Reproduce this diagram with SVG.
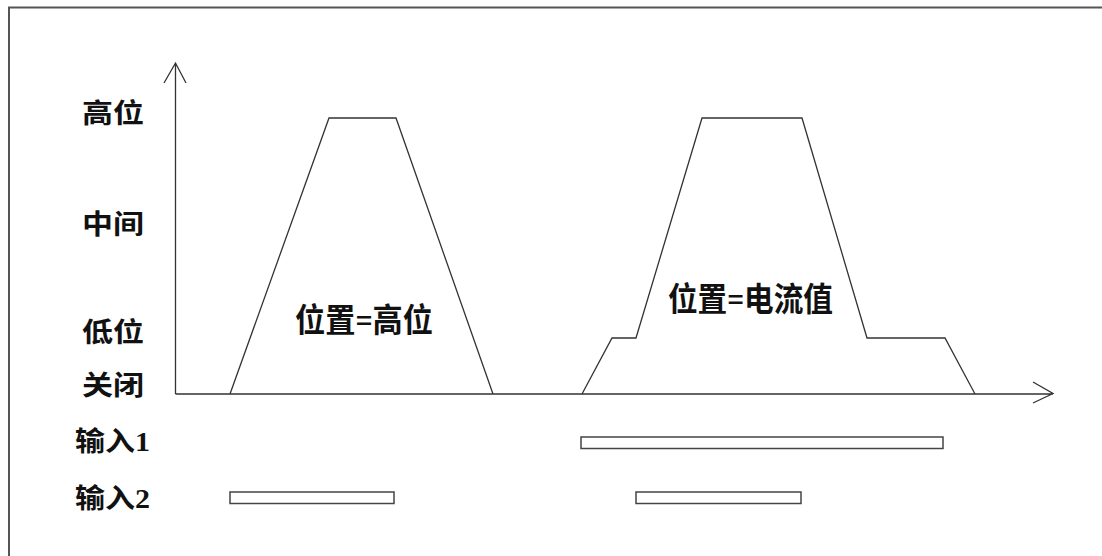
<svg xmlns="http://www.w3.org/2000/svg" width="1102" height="556" viewBox="0 0 1102 556">
<style>
.ln{fill:none;stroke:#333;stroke-width:1.3;stroke-linejoin:miter}
.bar{fill:#fff;stroke:#444;stroke-width:1.5}
.lbl{font-family:"Liberation Serif","Noto Sans CJK SC",serif;font-weight:bold;font-size:27px;fill:#111}
.big{font-family:"Liberation Serif","Noto Sans CJK SC",serif;font-weight:bold;font-size:33px;fill:#111}
</style>
<rect x="0" y="0" width="1102" height="556" fill="#fff"/>
<rect id="frame" x="9" y="7.5" width="1110" height="570" fill="none" stroke="#555" stroke-width="2"/>
<g id="connectors">
<path id="y-axis" class="ln" d="M175.5,394 V63 M164,83 L175.5,63 L186,83"/>
<path id="x-axis" class="ln" d="M175.5,394 H1053 M1033,382 L1053,393.5 L1033,403"/>
<path id="curve1" class="ln" d="M230,394 L329,118 H396 L493,394"/>
<path id="curve2" class="ln" d="M582,394 L612,338 H636 L702,118 H802 L867,338 H945 L975,394"/>
</g>
<g id="axis-labels">
<text class="lbl" x="82" y="123" textLength="62" lengthAdjust="spacingAndGlyphs">高位</text>
<text class="lbl" x="82" y="234" textLength="62" lengthAdjust="spacingAndGlyphs">中间</text>
<text class="lbl" x="82" y="342" textLength="62" lengthAdjust="spacingAndGlyphs">低位</text>
<text class="lbl" x="82" y="395" textLength="62" lengthAdjust="spacingAndGlyphs">关闭</text>
<text class="lbl" x="75" y="451" textLength="75" lengthAdjust="spacingAndGlyphs">输入1</text>
<text class="lbl" x="75" y="508" textLength="75" lengthAdjust="spacingAndGlyphs">输入2</text>
</g>
<g id="label-high">
<text class="big" x="295" y="332" textLength="138" lengthAdjust="spacingAndGlyphs">位置=高位</text>
</g>
<g id="label-current">
<text class="big" x="668" y="311" textLength="165" lengthAdjust="spacingAndGlyphs">位置=电流值</text>
</g>
<g id="input1-bar">
<rect class="bar" x="581" y="437" width="362" height="11.5"/>
</g>
<g id="input2-bar-a">
<rect class="bar" x="230" y="492" width="164" height="11.5"/>
</g>
<g id="input2-bar-b">
<rect class="bar" x="636" y="492" width="165" height="11.5"/>
</g>
</svg>
